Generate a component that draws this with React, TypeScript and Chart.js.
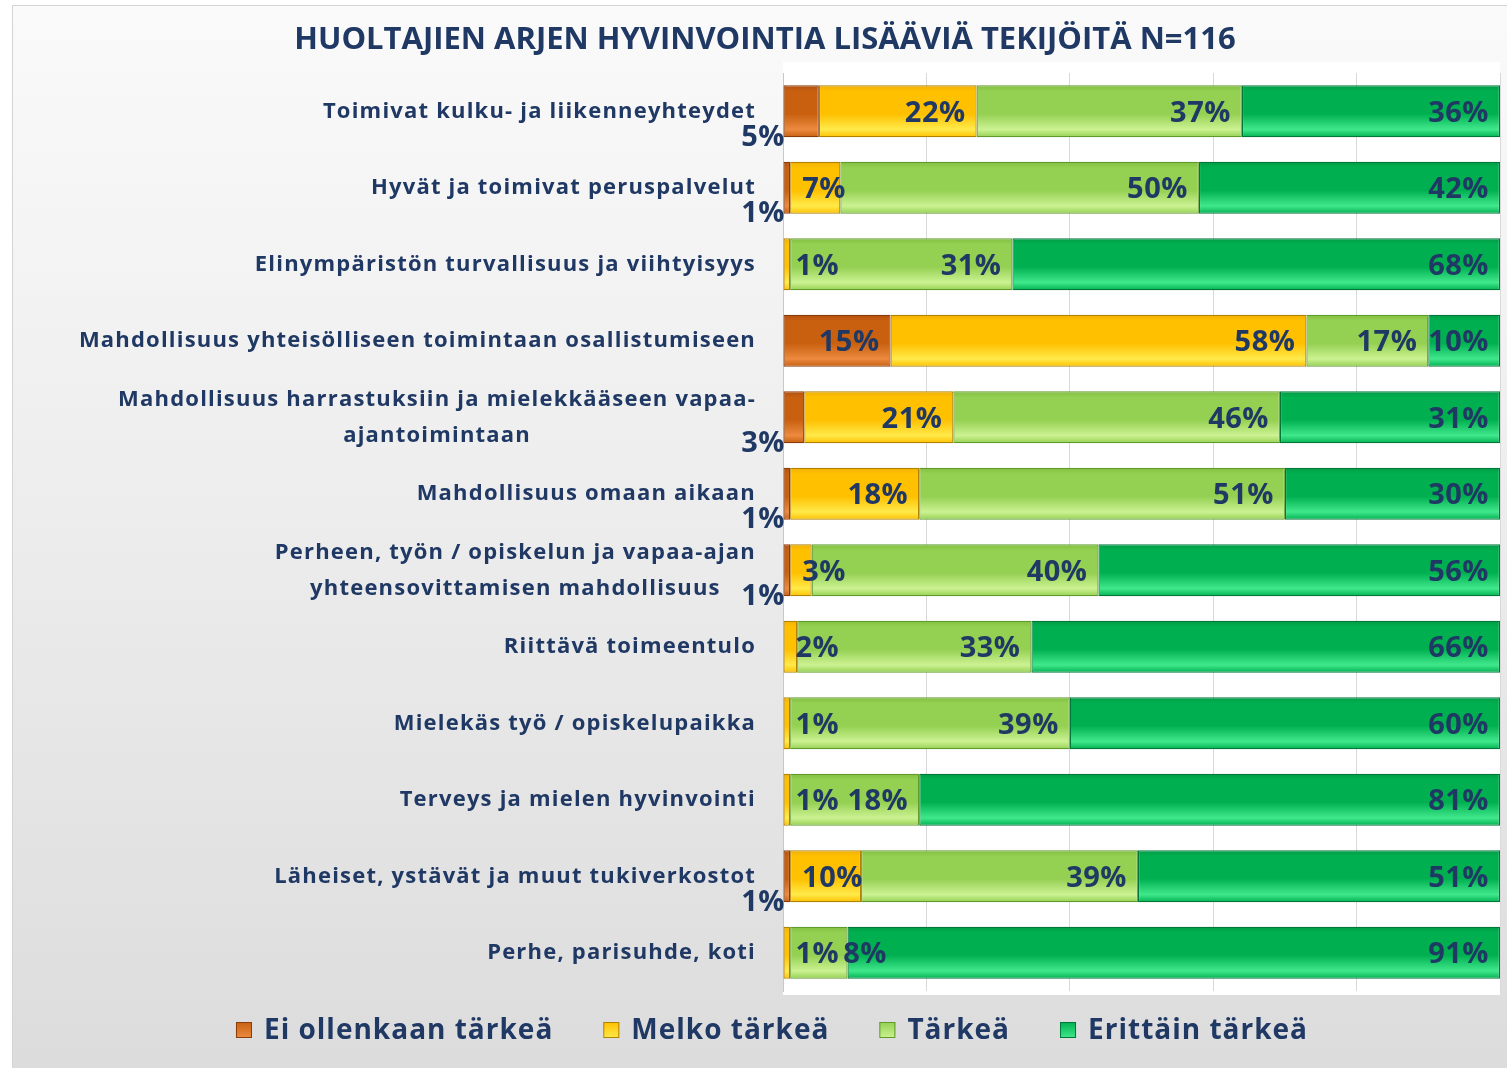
import React, { useEffect, useRef } from "react";
import { Chart, registerables } from "chart.js";

Chart.register(...registerables);

const chartTitle = "HUOLTAJIEN ARJEN HYVINVOINTIA LISÄÄVIÄ TEKIJÖITÄ N=116";

const categories: (string | string[])[] = [
  "Toimivat kulku- ja liikenneyhteydet",
  "Hyvät ja toimivat peruspalvelut",
  "Elinympäristön turvallisuus ja viihtyisyys",
  "Mahdollisuus yhteisölliseen toimintaan osallistumiseen",
  ["Mahdollisuus harrastuksiin ja mielekkääseen vapaa-", "ajantoimintaan"],
  "Mahdollisuus omaan aikaan",
  ["Perheen, työn / opiskelun ja vapaa-ajan", "yhteensovittamisen mahdollisuus"],
  "Riittävä toimeentulo",
  "Mielekäs työ / opiskelupaikka",
  "Terveys ja mielen hyvinvointi",
  "Läheiset, ystävät ja muut tukiverkostot",
  "Perhe, parisuhde, koti",
];

const seriesNames = ["Ei ollenkaan tärkeä", "Melko tärkeä", "Tärkeä", "Erittäin tärkeä"];
const eiOllenkaan = [5, 1, 0, 15, 3, 1, 1, 0, 0, 0, 1, 0];
const melko = [22, 7, 1, 58, 21, 18, 3, 2, 1, 1, 10, 1];
const tarkea = [37, 50, 31, 17, 46, 51, 40, 33, 39, 18, 39, 8];
const erittain = [36, 42, 68, 10, 31, 30, 56, 66, 60, 81, 51, 91];
const xTicks = [0, 20, 40, 60, 80, 100];

const NAVY = "#1f3864";
const FONT = "'Open Sans', 'DejaVu Sans', sans-serif";

const palettes = [
  { top: "#b4500f", mid: "#c8600f", bot: "#ec8a40", border: "#8a3c0a" },
  { top: "#f2b000", mid: "#ffc000", bot: "#ffea4a", border: "#b08200" },
  { top: "#82be40", mid: "#94d052", bot: "#ccf292", border: "#5f9a2a" },
  { top: "#009c46", mid: "#00b050", bot: "#40e88c", border: "#00783a" },
];

const seriesValues = [eiOllenkaan, melko, tarkea, erittain];

export default function App() {
  const canvasRef = useRef<HTMLCanvasElement | null>(null);

  useEffect(() => {
    document.body.style.margin = "0";
    const canvas = canvasRef.current;
    if (!canvas) return;

    const rowTotals = categories.map((_, i) =>
      seriesValues.reduce((s, arr) => s + arr[i], 0)
    );

    const BAR_PCT = 0.68;

    const makeFill = (p: typeof palettes[number]) => (ctx: any) => {
      const chart = ctx.chart;
      const ys = chart.scales?.y;
      const area = chart.chartArea;
      if (!ys || !area || ctx.type !== "data") return p.mid;
      const c = ys.getPixelForValue(ctx.dataIndex);
      const band = (area.bottom - area.top) / categories.length;
      const half = (band * BAR_PCT) / 2;
      const g = chart.ctx.createLinearGradient(0, c - half, 0, c + half);
      g.addColorStop(0, p.top);
      g.addColorStop(0.12, p.mid);
      g.addColorStop(0.55, p.mid);
      g.addColorStop(0.85, p.bot);
      g.addColorStop(1, p.mid);
      return g;
    };

    const datasets = seriesValues.map((vals, d) => ({
      label: seriesNames[d],
      data: vals.map((v, i) => (v * 100) / rowTotals[i]),
      backgroundColor: makeFill(palettes[d]),
      borderColor: palettes[d].border,
      borderWidth: 1.2,
      borderSkipped: false,
      barPercentage: BAR_PCT,
      categoryPercentage: 1,
    }));

    const bgPlugin = {
      id: "bgPlugin",
      beforeDraw(chart: any) {
        const { ctx, width, height, chartArea } = chart;
        ctx.save();
        ctx.fillStyle = "#ffffff";
        ctx.fillRect(0, 0, width, height);
        const g = ctx.createLinearGradient(0, 5, 0, height);
        g.addColorStop(0, "#fafafa");
        g.addColorStop(0.5, "#ececec");
        g.addColorStop(1, "#dcdcdc");
        ctx.fillStyle = g;
        ctx.fillRect(12, 5, width - 12, height - 5);
        ctx.strokeStyle = "#d4d4d4";
        ctx.lineWidth = 1;
        ctx.strokeRect(12.5, 5.5, width - 12, height - 5);
        ctx.fillStyle = "#ffffff";
        ctx.fillRect(
          chartArea.left,
          chartArea.top - 11,
          chartArea.right - chartArea.left,
          chartArea.bottom - chartArea.top + 15
        );
        ctx.restore();
      },
    };

    const labelPlugin = {
      id: "labelPlugin",
      afterDatasetsDraw(chart: any) {
        const { ctx, chartArea } = chart;
        ctx.save();
        ctx.fillStyle = NAVY;
        ctx.font = `bold 29px ${FONT}`;
        (ctx as any).letterSpacing = "0.5px";
        ctx.textBaseline = "middle";
        const pad = 11;
        const last = seriesValues.length - 1;
        categories.forEach((_, i) => {
          let prevRight = -Infinity;
          for (let d = 0; d < seriesValues.length; d++) {
            const v = seriesValues[d][i];
            if (!v) continue;
            const el = chart.getDatasetMeta(d).data[i];
            if (!el) continue;
            const start = Math.min(el.base, el.x);
            const end = Math.max(el.base, el.x);
            const text = `${v}%`;
            const w = ctx.measureText(text).width;
            const h = el.height;
            if (w + 2 * pad <= end - start || d === last) {
              ctx.textAlign = "right";
              ctx.fillText(text, end - pad, el.y + 2);
              prevRight = end - pad;
            } else if (d === 0) {
              ctx.textAlign = "right";
              ctx.fillText(text, chartArea.left + 2, el.y + h / 2);
            } else {
              const left = Math.max(start + 12, prevRight + 4);
              ctx.textAlign = "left";
              ctx.fillText(text, left, el.y + 2);
              prevRight = left + w;
            }
          }
        });
        ctx.restore();
      },
      afterDraw(chart: any) {
        const { ctx, chartArea } = chart;
        const ys = chart.scales.y;
        ctx.save();
        ctx.fillStyle = NAVY;
        ctx.textBaseline = "middle";
        ctx.textAlign = "center";

        // title
        ctx.font = `bold 31px ${FONT}`;
        (ctx as any).letterSpacing = "0px";
        ctx.fillText(chartTitle, 765, 40);

        // category labels
        ctx.font = `bold 22px ${FONT}`;
        (ctx as any).letterSpacing = "1.2px";
        const right = chartArea.left - 27;
        const lineH = 36;
        categories.forEach((cat, i) => {
          const lines = Array.isArray(cat) ? cat : [cat];
          const maxW = Math.max(...lines.map((l) => ctx.measureText(l).width));
          const cx = right - maxW / 2;
          const cy = ys.getPixelForValue(i);
          lines.forEach((l, k) => {
            ctx.fillText(l, cx, cy + (k - (lines.length - 1) / 2) * lineH);
          });
        });

        // legend
        ctx.font = `bold 28px ${FONT}`;
        (ctx as any).letterSpacing = "1px";
        ctx.textAlign = "left";
        const gap = 50;
        const box = 16;
        const boxGap = 12;
        const widths = seriesNames.map((n) => box + boxGap + ctx.measureText(n).width);
        const total = widths.reduce((a, b) => a + b, 0) + gap * (seriesNames.length - 1);
        let x = 772 - total / 2;
        const ly = 1030;
        seriesNames.forEach((n, d) => {
          const p = palettes[d];
          const g = ctx.createLinearGradient(0, ly - box / 2, 0, ly + box / 2);
          g.addColorStop(0, p.mid);
          g.addColorStop(1, p.bot);
          ctx.fillStyle = g;
          ctx.fillRect(x, ly - box / 2, box, box);
          ctx.strokeStyle = p.border;
          ctx.lineWidth = 1;
          ctx.strokeRect(x + 0.5, ly - box / 2 + 0.5, box - 1, box - 1);
          ctx.fillStyle = NAVY;
          ctx.fillText(n, x + box + boxGap, ly + 1);
          x += widths[d] + gap;
        });
        ctx.restore();
      },
    };

    const chart = new Chart(canvas, {
      type: "bar",
      data: {
        labels: categories.map((c) => (Array.isArray(c) ? c.join(" ") : c)),
        datasets: datasets as any,
      },
      options: {
        indexAxis: "y",
        animation: false,
        responsive: false,
        maintainAspectRatio: false,
        layout: { padding: { left: 8, right: 7, top: 73, bottom: 77 } },
        scales: {
          x: {
            stacked: true,
            min: 0,
            max: 100,
            afterBuildTicks: (scale: any) => {
              scale.ticks = xTicks.map((v) => ({ value: v }));
            },
            afterFit: (scale: any) => {
              scale.height = 0;
            },
            ticks: { display: false },
            grid: { color: "#d9d9d9", drawTicks: false, lineWidth: 1 },
            border: { display: false },
          },
          y: {
            stacked: true,
            afterFit: (scale: any) => {
              scale.width = 775;
            },
            ticks: { display: false },
            grid: { display: false },
            border: { display: true, color: "#c8c8c8" },
          },
        },
        plugins: {
          legend: { display: false },
          tooltip: { enabled: false },
          title: { display: false },
        },
      },
      plugins: [bgPlugin, labelPlugin],
    });

    return () => chart.destroy();
  }, []);

  return (
    <div style={{ width: 1507, height: 1068 }}>
      <canvas ref={canvasRef} width={1507} height={1068} style={{ display: "block" }} />
    </div>
  );
}
